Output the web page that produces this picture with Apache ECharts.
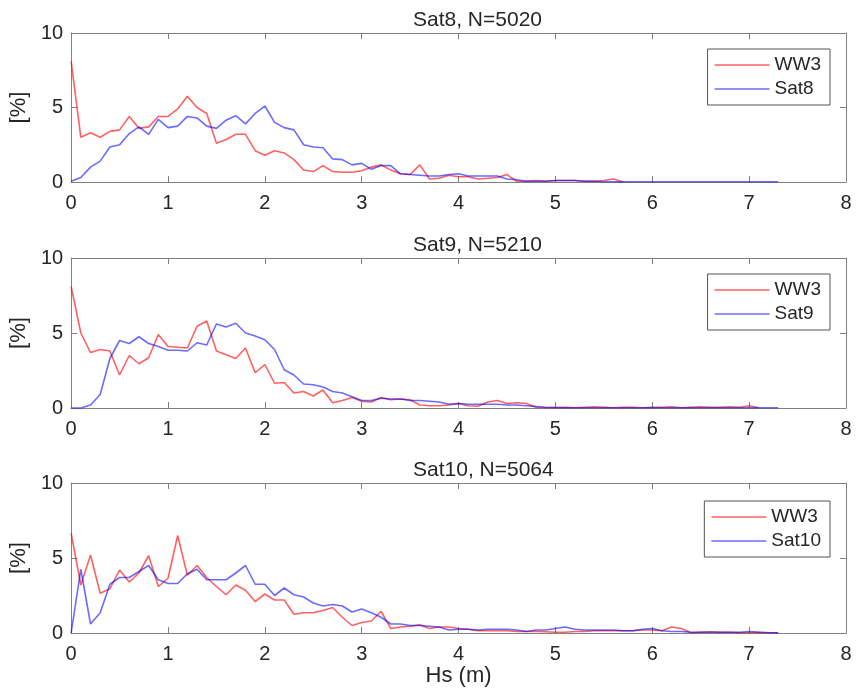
<!DOCTYPE html>
<html>
<head>
<meta charset="utf-8">
<script src="https://cdn.jsdelivr.net/npm/echarts@6/dist/echarts.min.js"></script>
<style>html,body{margin:0;padding:0;background:#fff}#c{width:857px;height:693px}</style>
</head>
<body>
<div id="c"></div>
<script>
// Hs bin centres (m)
const hs = [0,0.1,0.2,0.3,0.4,0.5,0.6,0.7,0.8,0.9,1.0,1.1,1.2,1.3,1.4,1.5,1.6,1.7,1.8,1.9,
  2.0,2.1,2.2,2.3,2.4,2.5,2.6,2.7,2.8,2.9,3.0,3.1,3.2,3.3,3.4,3.5,3.6,3.7,3.8,3.9,
  4.0,4.1,4.2,4.3,4.4,4.5,4.6,4.7,4.8,4.9,5.0,5.1,5.2,5.3,5.4,5.5,5.6,5.7,5.8,5.9,
  6.0,6.1,6.2,6.3,6.4,6.5,6.6,6.7,6.8,6.9,7.0,7.1,7.2,7.3];

const titles = ['Sat8, N=5020', 'Sat9, N=5210', 'Sat10, N=5064'];
const satNames = ['Sat8', 'Sat9', 'Sat10'];
const xTicks = [0,1,2,3,4,5,6,7,8];
const yTicks = [0,5,10];

// Panel 1 (Sat8)
const ww3_p1 = [8.1,3.0,3.3,3.0,3.4,3.5,4.4,3.6,3.7,4.4,4.4,4.9,5.75,5.0,4.6,2.6,2.85,3.2,3.2,2.1,
  1.8,2.1,1.95,1.5,0.8,0.7,1.1,0.7,0.65,0.65,0.75,1.0,1.15,0.8,0.55,0.5,1.15,0.2,0.25,0.45,
  0.35,0.35,0.2,0.25,0.3,0.5,0.05,0.05,0.1,0.05,0.1,0.1,0.1,0.05,0.05,0.1,0.2,0.0];
const sat8 = [0.05,0.3,1.0,1.4,2.35,2.5,3.25,3.7,3.2,4.2,3.65,3.75,4.4,4.3,3.75,3.6,4.15,4.45,3.9,4.6,
  5.1,4.0,3.65,3.5,2.5,2.35,2.3,1.55,1.5,1.15,1.25,0.85,1.1,1.1,0.55,0.5,0.45,0.4,0.4,0.5,
  0.55,0.4,0.4,0.4,0.4,0.2,0.15,0.05,0.05,0.05,0.1,0.1,0.1,0.05,0.05,0.02,0.02,0.02,0.02,0.02,
  0.02,0.02,0.02,0.02,0.02,0.02,0.02,0.02,0.02,0.02,0.02,0.02,0.02,0.02];

// Panel 2 (Sat9)
const ww3_p2 = [8.1,5.0,3.7,3.9,3.8,2.2,3.5,2.95,3.35,4.9,4.1,4.05,4.0,5.45,5.8,3.8,3.55,3.3,4.0,2.35,
  2.9,1.65,1.7,1.0,1.1,0.8,1.2,0.35,0.5,0.7,0.45,0.4,0.7,0.55,0.6,0.55,0.2,0.15,0.15,0.2,
  0.3,0.15,0.12,0.4,0.5,0.3,0.35,0.3,0.05,0.02,0.05,0.05,0.02,0.05,0.08,0.05,0.02,0.05,0.05,0.02,
  0.05,0.05,0.08,0.02,0.05,0.08,0.05,0.05,0.08,0.05,0.15,0.02];
const sat9 = [0,0,0.2,0.9,3.3,4.5,4.3,4.75,4.3,4.1,3.85,3.85,3.8,4.35,4.2,5.6,5.4,5.65,5.0,4.8,
  4.55,3.9,2.55,2.2,1.6,1.55,1.4,1.1,1.0,0.75,0.5,0.5,0.65,0.6,0.6,0.5,0.5,0.45,0.4,0.25,
  0.3,0.25,0.25,0.25,0.25,0.2,0.2,0.15,0.1,0.05,0.02,0.02,0.02,0.02,0.02,0.02,0.02,0.02,0.02,0.02,
  0.02,0.02,0.02,0.02,0.02,0.02,0.02,0.02,0.02,0.02,0.02,0.02,0.02,0.02];

// Panel 3 (Sat10)
const ww3_p3 = [6.65,3.2,5.2,2.65,2.95,4.2,3.4,4.0,5.15,3.1,3.65,6.5,3.85,4.5,3.7,3.1,2.55,3.2,2.85,2.1,
  2.6,2.2,2.2,1.25,1.35,1.35,1.5,1.7,1.05,0.5,0.7,0.8,1.45,0.3,0.4,0.45,0.55,0.3,0.4,0.4,
  0.3,0.25,0.15,0.15,0.15,0.15,0.1,0.1,0.1,0.08,0.05,0.05,0.1,0.1,0.15,0.15,0.15,0.15,0.15,0.2,
  0.2,0.15,0.4,0.3,0.02,0.05,0.08,0.05,0.05,0.02,0.02,0.05,0.02,0.02];
const sat10 = [0,4.25,0.6,1.35,3.25,3.7,3.7,4.1,4.5,3.55,3.3,3.3,3.95,4.25,3.55,3.55,3.55,4.0,4.5,3.25,
  3.25,2.5,3.0,2.55,2.4,2.0,1.8,1.9,1.8,1.4,1.6,1.35,1.05,0.6,0.6,0.5,0.5,0.45,0.4,0.2,
  0.25,0.25,0.2,0.25,0.25,0.25,0.2,0.1,0.2,0.2,0.3,0.4,0.25,0.2,0.2,0.2,0.2,0.15,0.15,0.25,
  0.3,0.15,0.1,0.1,0.05,0.05,0.05,0.05,0.05,0.05,0.1,0.05,0.02,0.02];

const ww3Sets = [ww3_p1, ww3_p2, ww3_p3];
const satSets = [sat8, sat9, sat10];

const FONT = '"Liberation Sans", Arial, Helvetica, sans-serif';
const RED = 'rgba(255,0,0,0.62)';
const BLUE = 'rgba(0,0,255,0.58)';
const AXC = '#808080';
const TXT = '#262626';

const gridTops = [33, 258, 483];
const gridH = [149, 150, 150];
const legendTops = [49, 274, 501];
const titleTops = [5, 230, 455];

const grids = [], xAxes = [], yAxes = [], series = [], legends = [], titleArr = [];

function pair(vals) { return vals.map((v, i) => [hs[i], v]); }

for (let g = 0; g < 3; g++) {
  grids.push({ left: 70, width: 776, top: gridTops[g], height: gridH[g], containLabel: false });
  const common = {
    gridIndex: g, type: 'value', min: xTicks[0], max: xTicks[xTicks.length - 1], interval: 1,
    axisLine: { show: true, onZero: false, lineStyle: { color: AXC, width: 1 } },
    axisTick: { show: true, inside: true, length: 6, lineStyle: { color: AXC } },
    splitLine: { show: false }
  };
  xAxes.push(Object.assign({}, common, {
    position: 'bottom',
    axisLabel: { show: true, color: TXT, fontSize: 20, fontFamily: FONT, margin: 11 },
    name: g === 2 ? 'Hs (m)' : '', nameLocation: 'middle', nameGap: 30,
    nameTextStyle: { color: TXT, fontSize: 22, fontFamily: FONT }
  }));
  xAxes.push(Object.assign({}, common, { position: 'top', axisLabel: { show: false } }));
  const ycommon = {
    gridIndex: g, type: 'value', min: yTicks[0], max: yTicks[yTicks.length - 1], interval: 5,
    axisLine: { show: true, onZero: false, lineStyle: { color: AXC, width: 1 } },
    axisTick: { show: true, inside: true, length: 6, lineStyle: { color: AXC } },
    splitLine: { show: false }
  };
  yAxes.push(Object.assign({}, ycommon, {
    position: 'left',
    axisLabel: { show: true, color: TXT, fontSize: 20, fontFamily: FONT, margin: 8 },
    name: '[%]', nameLocation: 'middle', nameGap: 28, nameRotate: 90,
    nameTextStyle: { color: TXT, fontSize: 22, fontFamily: FONT }
  }));
  yAxes.push(Object.assign({}, ycommon, { position: 'right', axisLabel: { show: false } }));

  series.push({
    name: 'WW3', type: 'line', xAxisIndex: 2 * g, yAxisIndex: 2 * g,
    data: pair(ww3Sets[g]), showSymbol: false, symbol: 'none', color: RED,
    lineStyle: { color: RED, width: 1.6 }, animation: false
  });
  series.push({
    name: satNames[g], type: 'line', xAxisIndex: 2 * g, yAxisIndex: 2 * g,
    data: pair(satSets[g]), showSymbol: false, symbol: 'none', color: BLUE,
    lineStyle: { color: BLUE, width: 1.6 }, animation: false
  });

  legends.push({
    data: ['WW3', satNames[g]], orient: 'vertical',
    right: 857 - 830, top: legendTops[g],
    icon: 'rect', itemWidth: 55, itemHeight: 1.5, itemGap: 4,
    padding: [6, 9, 6, 7],
    borderColor: '#555', borderWidth: 1, backgroundColor: '#fff',
    textStyle: { color: TXT, fontSize: 19, fontFamily: FONT, lineHeight: 20 },
    selectedMode: false
  });

  titleArr.push({
    text: titles[g], left: 408, top: titleTops[g],
    textStyle: { color: TXT, fontSize: 21, fontWeight: 'normal', fontFamily: FONT }
  });
}

const chart = echarts.init(document.getElementById('c'), null, { renderer: 'canvas' });
chart.setOption({
  animation: false,
  backgroundColor: '#fff',
  title: titleArr,
  grid: grids,
  xAxis: xAxes,
  yAxis: yAxes,
  legend: legends,
  series: series
});
</script>
</body>
</html>
